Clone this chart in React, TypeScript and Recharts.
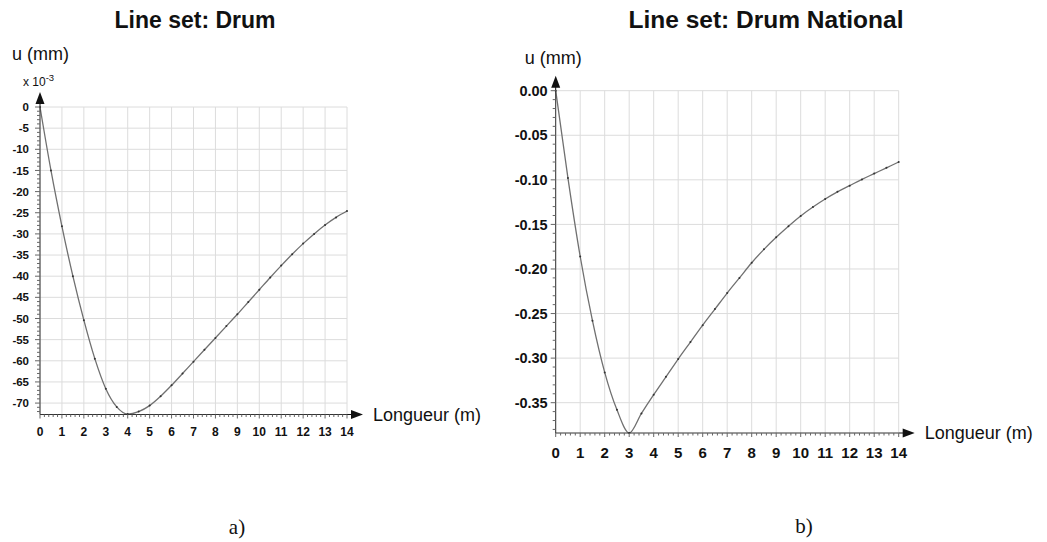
import React from "react";
import { LineChart, Line, XAxis, YAxis, CartesianGrid } from "recharts";

// positions along the line set (m)
const positions = [
  0, 0.5, 1, 1.5, 2, 2.5, 3, 3.5, 4, 4.5, 5, 5.5, 6, 6.5, 7, 7.5, 8, 8.5, 9, 9.5,
  10, 10.5, 11, 11.5, 12, 12.5, 13, 13.5, 14,
];

// a) Drum, u in mm x 10^-3
const drumValues = [
  0, -15, -28.2, -40, -50.4, -59.5, -66.6, -70.9, -72.6, -72.0, -70.6, -68.4, -65.8,
  -63.0, -60.2, -57.4, -54.6, -51.8, -49.0, -46.1, -43.2, -40.3, -37.5, -34.8, -32.3,
  -30.0, -27.9, -26.1, -24.6,
];

// b) Drum National, u in mm
const nationalValues = [
  0, -0.098, -0.186, -0.258, -0.316, -0.358, -0.384, -0.362, -0.341, -0.321, -0.301,
  -0.282, -0.263, -0.245, -0.227, -0.21, -0.193, -0.178, -0.1645, -0.152, -0.1405,
  -0.1305, -0.1215, -0.1135, -0.1065, -0.0995, -0.093, -0.0865, -0.08,
];

const xLabels = [0, 1, 2, 3, 4, 5, 6, 7, 8, 9, 10, 11, 12, 13, 14];
const drumYLabels = [0, -5, -10, -15, -20, -25, -30, -35, -40, -45, -50, -55, -60, -65, -70];
const nationalYLabels = [0, -0.05, -0.1, -0.15, -0.2, -0.25, -0.3, -0.35];

const SANS = '"Liberation Sans", Arial, Helvetica, sans-serif';
const SERIF = '"Liberation Serif", "Times New Roman", serif';

const drumData = positions.map((x, i) => ({ x, u: drumValues[i] }));
const nationalData = positions.map((x, i) => ({ x, u: nationalValues[i] }));

// minor ticks every 0.2 m on x
const xMinor = Array.from({ length: 71 }, (_, i) => Number((i / 5).toFixed(1)));
const drumYMinor = Array.from({ length: 73 }, (_, i) => -i);
const nationalYMinor = Array.from({ length: 39 }, (_, i) => Number((-i / 100).toFixed(2)));

const XTick = (props: any) => {
  const { x, y, payload, fontSize, labelDy } = props;
  const v = payload.value;
  const major = Math.abs(v - Math.round(v)) < 1e-6;
  return (
    <g>
      <line x1={x} y1={y} x2={x} y2={y + (major ? 4 : 2.5)} stroke="#666" />
      {major && (
        <text
          x={x}
          y={y + labelDy}
          textAnchor="middle"
          fontFamily={SANS}
          fontWeight="bold"
          fontSize={fontSize}
          fill="#111"
        >
          {Math.round(v)}
        </text>
      )}
    </g>
  );
};

const YTick = (props: any) => {
  const { x, y, payload, fontSize, step, digits, labelDx } = props;
  const v = payload.value;
  const major = Math.abs(v / step - Math.round(v / step)) < 1e-6;
  return (
    <g>
      <line x1={x} y1={y} x2={x - (major ? 5 : 3)} y2={y} stroke="#666" />
      {major && (
        <text
          x={x - labelDx}
          y={y + fontSize * 0.36}
          textAnchor="end"
          fontFamily={SANS}
          fontWeight="bold"
          fontSize={fontSize}
          fill="#111"
        >
          {v.toFixed(digits)}
        </text>
      )}
    </g>
  );
};

const yArrow = (textDx: number, textDy: number, multiplier: boolean) => (props: any) => {
  const { x, y, width } = props.viewBox;
  const ax = x + width;
  return (
    <g>
      <line x1={ax} y1={y} x2={ax} y2={y - 4} stroke="#111" />
      <polygon points={`${ax - 4.5},${y - 3} ${ax + 4.5},${y - 3} ${ax},${y - 15}`} fill="#111" />
      <text x={ax + textDx} y={y + textDy} fontFamily={SANS} fontSize={18} fill="#111">
        u (mm)
      </text>
      {multiplier && (
        <text x={ax - 17} y={y - 21} fontFamily={SANS} fontSize={12} fill="#111">
          x 10
          <tspan dy={-5} fontSize={9.5}>
            -3
          </tspan>
        </text>
      )}
    </g>
  );
};

const xArrow = (props: any) => {
  const { x, y, width } = props.viewBox;
  const ex = x + width;
  return (
    <g>
      <line x1={ex} y1={y} x2={ex + 5} y2={y} stroke="#111" />
      <polygon points={`${ex + 4},${y - 4.5} ${ex + 4},${y + 4.5} ${ex + 16},${y}`} fill="#111" />
      <text x={ex + 26} y={y + 6} fontFamily={SANS} fontSize={18} fill="#111">
        Longueur (m)
      </text>
    </g>
  );
};

const titleStyle = (left: number, width: number, fontSize: number): React.CSSProperties => ({
  position: "absolute",
  left,
  top: 6,
  width,
  textAlign: "center",
  fontFamily: SANS,
  fontWeight: "bold",
  fontSize,
  lineHeight: "28px",
  color: "#111",
  whiteSpace: "nowrap",
});

const captionStyle = (left: number, top: number): React.CSSProperties => ({
  position: "absolute",
  left,
  top,
  width: 40,
  textAlign: "center",
  fontFamily: SERIF,
  fontSize: 21,
  lineHeight: "24px",
  color: "#111",
});

export default function App() {
  return (
    <div
      style={{
        position: "absolute",
        left: 0,
        top: 0,
        width: 1047,
        height: 542,
        background: "#fff",
        overflow: "hidden",
      }}
    >
      <div style={titleStyle(95, 200, 23)}>Line set: Drum</div>
      <div style={titleStyle(616, 300, 24.5)}>Line set: Drum National</div>

      <div style={{ position: "absolute", left: 0, top: 0 }}>
        <LineChart
          width={500}
          height={470}
          data={drumData}
          margin={{ top: 107, right: 153, bottom: 25.5, left: 0 }}
        >
          <CartesianGrid
            stroke="#dcdcdc"
            horizontalValues={drumYLabels}
            verticalValues={xLabels}
          />
          <XAxis
            type="number"
            dataKey="x"
            domain={[0, 14]}
            ticks={xMinor}
            interval={0}
            height={30}
            tickSize={0}
            tickMargin={0}
            tickLine={false}
            axisLine={{ stroke: "#333" }}
            tick={<XTick fontSize={12} labelDy={21} />}
            label={{ content: xArrow }}
          />
          <YAxis
            type="number"
            domain={[-72.7, 0]}
            ticks={drumYMinor}
            interval={0}
            width={40}
            tickSize={0}
            tickMargin={0}
            tickLine={false}
            axisLine={{ stroke: "#333" }}
            tick={<YTick fontSize={11.5} step={5} digits={0} labelDx={11} />}
            label={{ content: yArrow(-28, -47, true) }}
          />
          <Line
            type="monotone"
            dataKey="u"
            stroke="#707070"
            strokeWidth={1.3}
            dot={{ r: 1, fill: "#333", stroke: "none" }}
            isAnimationActive={false}
          />
        </LineChart>
      </div>

      <div style={{ position: "absolute", left: 500, top: 0 }}>
        <LineChart
          width={547}
          height={542}
          data={nationalData}
          margin={{ top: 90.7, right: 148.3, bottom: 79, left: 0 }}
        >
          <CartesianGrid
            stroke="#dcdcdc"
            horizontalValues={nationalYLabels}
            verticalValues={xLabels}
          />
          <XAxis
            type="number"
            dataKey="x"
            domain={[0, 14]}
            ticks={xMinor}
            interval={0}
            height={30}
            tickSize={0}
            tickMargin={0}
            tickLine={false}
            axisLine={{ stroke: "#333" }}
            tick={<XTick fontSize={15} labelDy={25} />}
            label={{ content: xArrow }}
          />
          <YAxis
            type="number"
            domain={[-0.384, 0]}
            ticks={nationalYMinor}
            interval={0}
            width={55.7}
            tickSize={0}
            tickMargin={0}
            tickLine={false}
            axisLine={{ stroke: "#333" }}
            tick={<YTick fontSize={14.5} step={0.05} digits={2} labelDx={8} />}
            label={{ content: yArrow(-31, -27, false) }}
          />
          <Line
            type="monotone"
            dataKey="u"
            stroke="#707070"
            strokeWidth={1.3}
            dot={{ r: 1, fill: "#333", stroke: "none" }}
            isAnimationActive={false}
          />
        </LineChart>
      </div>

      <div style={captionStyle(217, 515)}>a)</div>
      <div style={captionStyle(784, 514)}>b)</div>
    </div>
  );
}
